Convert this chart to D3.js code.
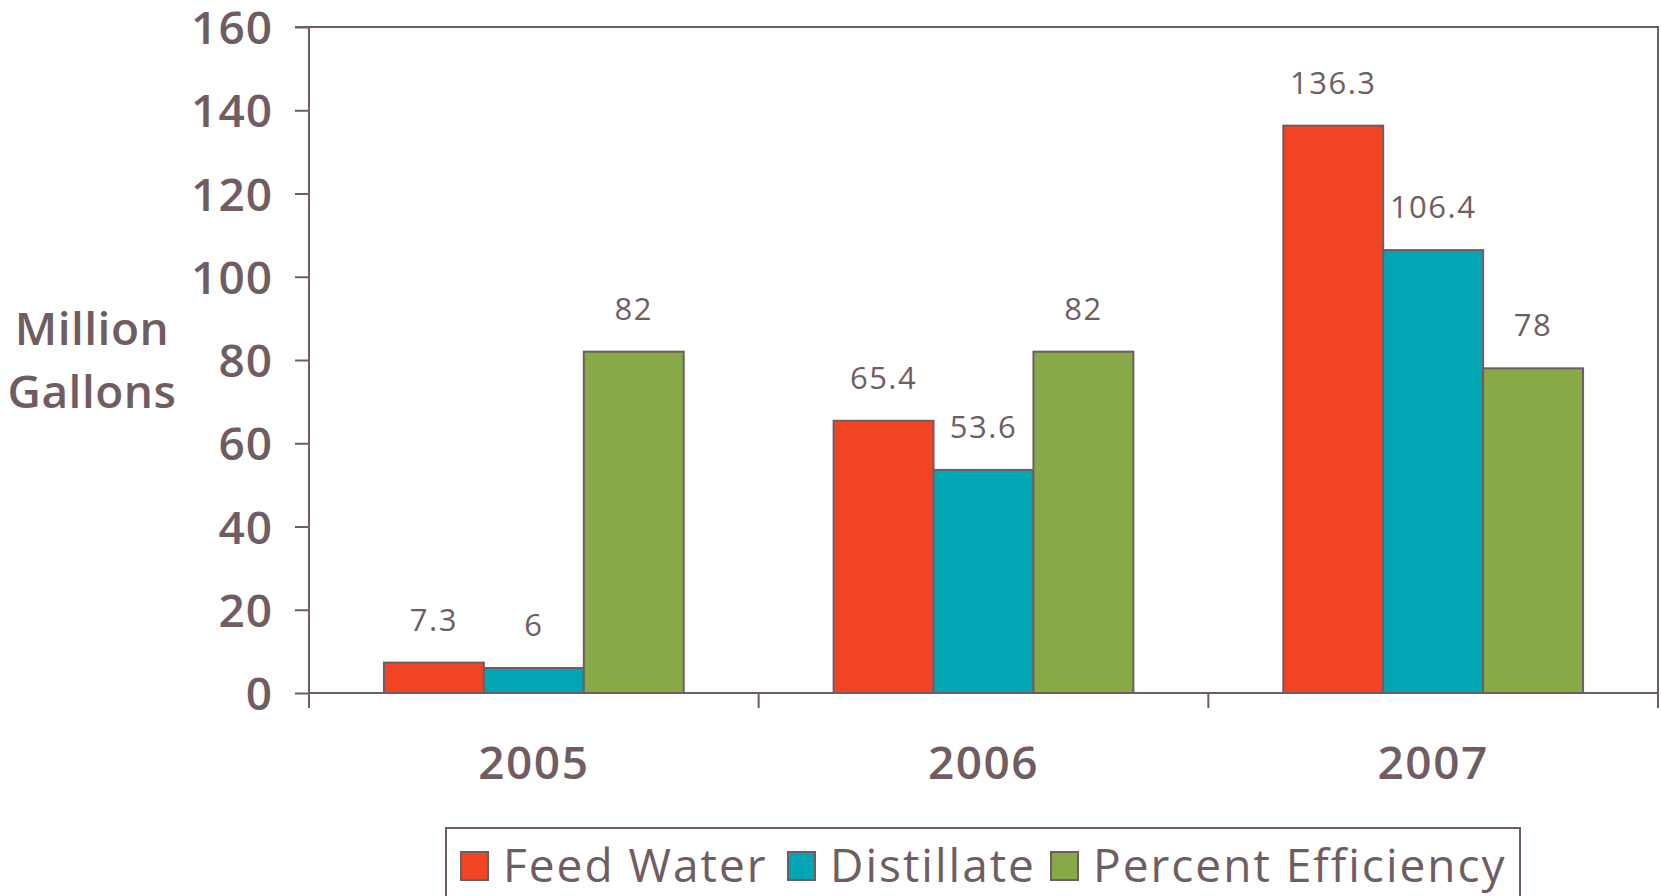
<!DOCTYPE html>
<html>
<head>
<meta charset="utf-8">
<script src="https://cdn.jsdelivr.net/npm/d3@7"></script>
<style>
  html, body { margin: 0; padding: 0; background: #fff; }
  svg { display: block; font-family: "Open Sans", "Noto Sans", sans-serif; }
</style>
</head>
<body>
<svg id="chart" width="1661" height="896"></svg>
<script>
// Water production by year
const years = ["2005", "2006", "2007"];
const seriesNames = ["Feed Water", "Distillate", "Percent Efficiency"];
const feedWater = [7.3, 65.4, 136.3];
const distillate = [6, 53.6, 106.4];
const percentEfficiency = [82, 82, 78];
const yTicks = [0, 20, 40, 60, 80, 100, 120, 140, 160];
const yLabelLines = ["Million", "Gallons"];

const seriesValues = [feedWater, distillate, percentEfficiency];
const colors = ["#F34325", "#00A6B4", "#88A947"];
const ink = "#705D62";

const svg = d3.select("#chart");
const plotLeft = 309, plotRight = 1658, plotTop = 27, plotBottom = 693;

const y = d3.scaleLinear().domain([0, 160]).range([plotBottom, plotTop]);
const x0 = d3.scaleBand().domain(years).range([plotLeft, plotRight])
  .paddingInner(1 / 3).paddingOuter(1 / 6);
const x1 = d3.scaleBand().domain(seriesNames).range([0, x0.bandwidth()]);
const step = x0.step();

// plot frame (top and right)
svg.append("path")
  .attr("d", `M${plotLeft - 14},${plotTop}H${plotRight}V${plotBottom + 15}`)
  .attr("fill", "none").attr("stroke", ink).attr("stroke-width", 2);

// bars
const groups = svg.append("g").selectAll("g")
  .data(years).join("g")
  .attr("transform", d => `translate(${x0(d)},0)`);

groups.selectAll("rect")
  .data((d, i) => seriesNames.map((s, k) => ({ s, k, v: seriesValues[k][i] })))
  .join("rect")
  .attr("x", d => x1(d.s))
  .attr("width", x1.bandwidth())
  .attr("y", d => y(d.v))
  .attr("height", d => y(0) - y(d.v))
  .attr("fill", d => colors[d.k])
  .attr("stroke", ink).attr("stroke-width", 2);

groups.selectAll("text")
  .data((d, i) => seriesNames.map((s, k) => ({ s, k, v: seriesValues[k][i] })))
  .join("text")
  .attr("x", d => x1(d.s) + x1.bandwidth() / 2)
  .attr("y", d => y(d.v) - 32)
  .attr("text-anchor", "middle")
  .attr("font-size", 31)
  .attr("letter-spacing", 1.5)
  .attr("fill", ink)
  .text(d => String(d.v));

// y axis
const yAxis = svg.append("g")
  .attr("transform", `translate(${plotLeft},0)`)
  .call(d3.axisLeft(y).tickValues(yTicks).tickSize(14).tickPadding(22));
yAxis.select(".domain").remove();
yAxis.selectAll(".tick line").attr("stroke", ink).attr("stroke-width", 2);
yAxis.selectAll(".tick text")
  .attr("fill", ink).attr("font-size", 46).attr("font-weight", 600)
  .attr("letter-spacing", 1)
  .attr("font-family", "'Open Sans', sans-serif")
  .attr("dy", "0.36em");
svg.append("line")
  .attr("x1", plotLeft).attr("x2", plotLeft).attr("y1", plotTop).attr("y2", plotBottom + 15)
  .attr("stroke", ink).attr("stroke-width", 2);

// x axis baseline and category boundary ticks
svg.append("line")
  .attr("x1", plotLeft).attr("x2", plotRight).attr("y1", plotBottom).attr("y2", plotBottom)
  .attr("stroke", ink).attr("stroke-width", 2);
const xAxis = svg.append("g")
  .attr("transform", `translate(0,${plotBottom})`)
  .call(d3.axisBottom(x0).tickSize(0).tickPadding(0));
xAxis.select(".domain").remove();
xAxis.selectAll(".tick text")
  .attr("y", 86).attr("dy", 0)
  .attr("fill", ink).attr("font-size", 46).attr("font-weight", 600)
  .attr("letter-spacing", 1.5)
  .attr("font-family", "'Open Sans', sans-serif");
svg.append("g").selectAll("line")
  .data(d3.range(years.length + 1))
  .join("line")
  .attr("x1", i => plotLeft + i * step).attr("x2", i => plotLeft + i * step)
  .attr("y1", plotBottom).attr("y2", plotBottom + 15)
  .attr("stroke", ink).attr("stroke-width", 2);

// y axis title
svg.append("text")
  .attr("text-anchor", "middle")
  .attr("fill", ink).attr("font-size", 46).attr("font-weight", 600)
  .attr("letter-spacing", 0.5)
  .selectAll("tspan").data(yLabelLines).join("tspan")
  .attr("x", 92)
  .attr("y", (d, i) => 345 + i * 63)
  .text(d => d);

// legend
const legend = svg.append("g");
legend.append("rect")
  .attr("x", 446).attr("y", 828).attr("width", 1074).attr("height", 100)
  .attr("fill", "#fff").attr("stroke", ink).attr("stroke-width", 2);
const legendX = [461, 788, 1051];
const items = legend.selectAll("g.item").data(seriesNames).join("g")
  .attr("class", "item")
  .attr("transform", (d, i) => `translate(${legendX[i]},852)`);
items.append("rect")
  .attr("width", 27).attr("height", 28)
  .attr("fill", (d, i) => colors[i])
  .attr("stroke", ink).attr("stroke-width", 2);
items.append("text")
  .attr("x", 42).attr("y", 30)
  .attr("fill", ink).attr("font-size", 46)
  .attr("letter-spacing", 2)
  .text(d => d);
</script>
</body>
</html>
